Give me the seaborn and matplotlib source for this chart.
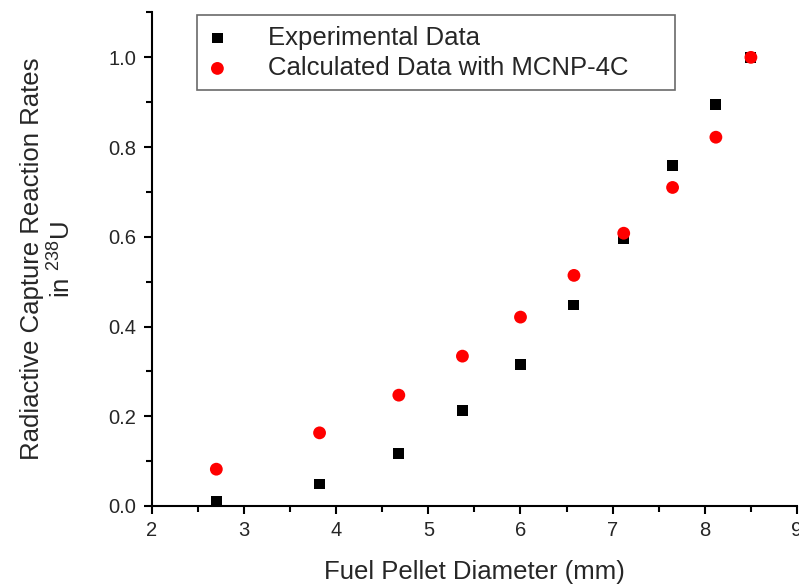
import numpy as np
import matplotlib.pyplot as plt
import seaborn as sns
from matplotlib.ticker import MultipleLocator

# data
diameter = [2.70, 3.82, 4.68, 5.37, 6.00, 6.58, 7.12, 7.65, 8.12, 8.50]
experimental = [0.011, 0.049, 0.116, 0.212, 0.316, 0.448, 0.597, 0.759, 0.895, 1.000]
calculated = [0.082, 0.163, 0.247, 0.334, 0.421, 0.514, 0.608, 0.710, 0.822, 1.000]

sns.set_style("ticks")
plt.rcParams["font.family"] = ["Liberation Sans", "DejaVu Sans"]
plt.rcParams["mathtext.default"] = "regular"

fig = plt.figure(figsize=(7.99, 5.84), dpi=100)
ax = fig.add_axes([0.190, 0.1336, 0.8075, 0.845])

sns.scatterplot(x=diameter, y=experimental, marker="s", color="black", s=62,
                edgecolor="none", label="Experimental Data", ax=ax, zorder=3)
sns.scatterplot(x=diameter, y=calculated, marker="o", color="red", s=85,
                edgecolor="none", label="Calculated Data with MCNP-4C", ax=ax, zorder=4)

ax.set_xlim(2, 9)
ax.set_ylim(0, 1.1)
ax.xaxis.set_major_locator(MultipleLocator(1))
ax.xaxis.set_minor_locator(MultipleLocator(0.5))
ax.yaxis.set_minor_locator(MultipleLocator(0.1))
ax.set_yticks(np.arange(0, 1.01, 0.2))
ax.set_yticklabels(["0.0", "0.2", "0.4", "0.6", "0.8", "1.0"])
ax.tick_params(which="major", length=6, width=1.5, labelsize=14.5, color="black", pad=5)
ax.tick_params(which="minor", length=4, width=1.5, color="black")
for side in ["right", "top"]:
    ax.spines[side].set_visible(False)
for side in ["left", "bottom"]:
    ax.spines[side].set_linewidth(1.5)
    ax.spines[side].set_color("black")

ax.set_xlabel("Fuel Pellet Diameter (mm)", fontsize=18.5, labelpad=14)
ax.set_ylabel("Radiactive Capture Reaction Rates\nin $^{238}$U", fontsize=18.5, labelpad=24)

leg = ax.legend(loc="upper left", bbox_to_anchor=(0.0698, 0.846, 0.741, 0.148),
                mode="expand", fontsize=18.5,
                frameon=True, fancybox=False, edgecolor="#444444",
                handlelength=0.8, handletextpad=1.55, borderpad=0.4,
                labelspacing=0.25, borderaxespad=0.0)
leg.get_frame().set_linewidth(1.2)

plt.savefig("out.png", dpi=100)
